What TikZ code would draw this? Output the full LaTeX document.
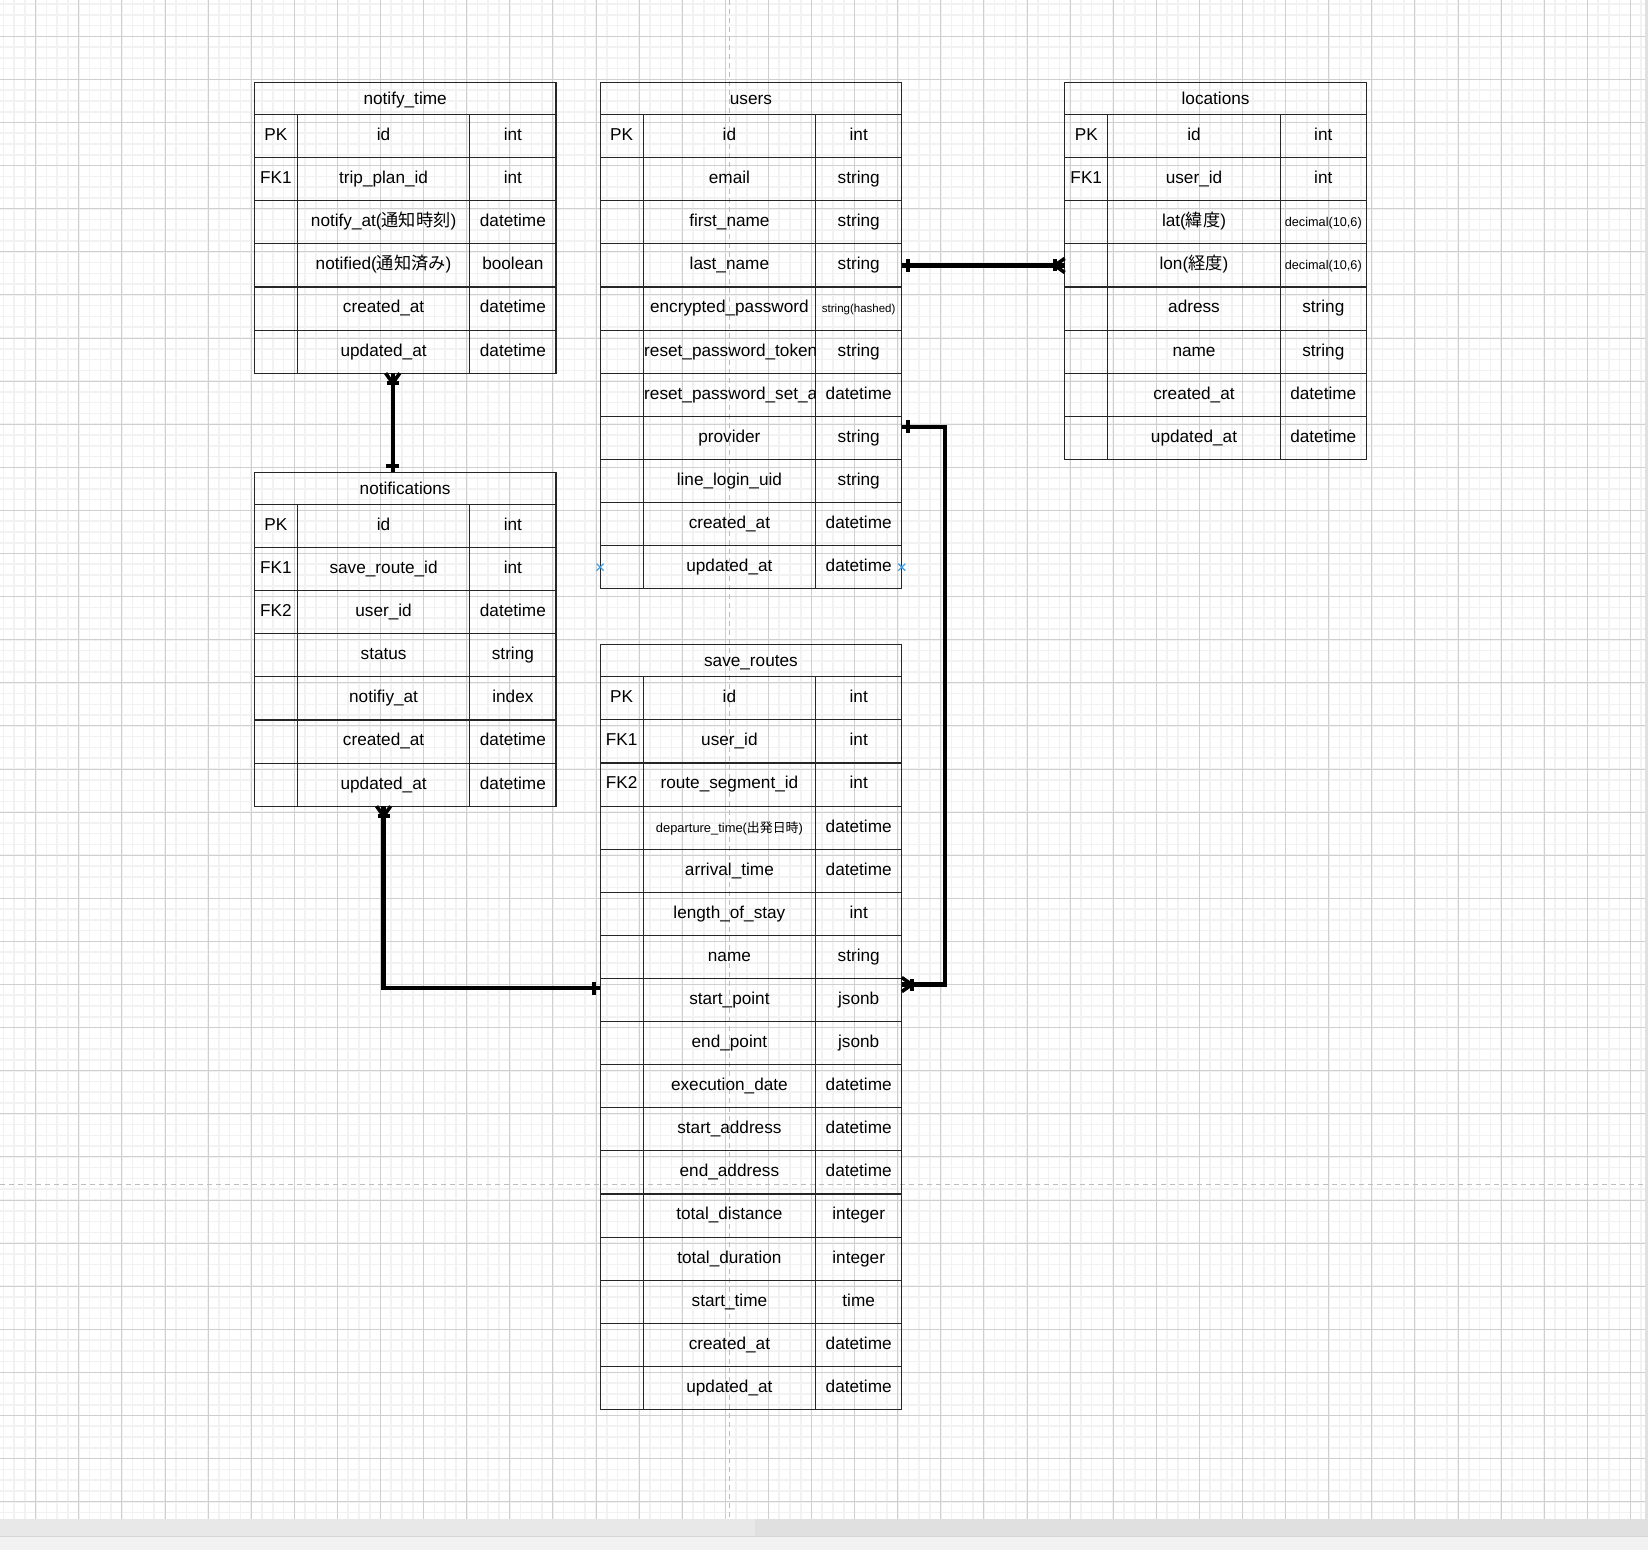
\documentclass[tikz,border=0pt]{standalone}
\usepackage{fontspec}
\setmainfont{Liberation Sans}
\newfontfamily\jp{Noto Sans CJK JP}
\usetikzlibrary{calc}
\newcommand{\sfA}{\fontsize{12.7pt}{14pt}\selectfont}
\newcommand{\sfB}{\fontsize{11.5pt}{13pt}\selectfont}
\newcommand{\sfC}{\fontsize{12.9pt}{14pt}\selectfont}
\definecolor{minorc}{HTML}{F2F2F2}
\definecolor{majorc}{HTML}{CFCFCF}
\definecolor{dashc}{HTML}{BDBDBD}
\definecolor{hoverc}{RGB}{70,160,230}
\tikzset{
  cellfont/.style={font=\fontsize{17.2pt}{20pt}\selectfont, text height=12.4pt, text depth=3.6pt},
  cellbase/.style={draw=black!85, line width=1.1pt, inner sep=0pt, outer sep=0pt, cellfont, minimum height=43.1pt},
  kcell/.style={cellbase, minimum width=43.1pt},
  ncell/.style={cellbase, minimum width=172.4pt},
  tcell/.style={cellbase, minimum width=86.2pt},
  ttl/.style={draw=black!85, line width=1.1pt, inner sep=0pt, outer sep=0pt, cellfont, text depth=0.5pt, minimum width=301.7pt, minimum height=32.3pt},
  conn/.style={line width=4.3pt, black},
  minorl/.style={minorc, line width=1.6pt},
  majorl/.style={majorc, line width=1pt},
  pagebreak/.style={dashc, line width=1.3pt, dash pattern=on 5pt off 4pt},
  crowone/.pic={
    \draw[conn, line width=3.6pt] (-10,0) -- (0,7);
    \draw[conn, line width=3.6pt] (-10,0) -- (0,-7);
    \draw[conn] (-10,0) -- (0,0);
    \draw[conn] (-10,-6) -- (-10,6);
  },
  onebar/.pic={
    \draw[conn] (-6,-6.5) -- (-6,6.5);
  },
  hovercross/.pic={
    \draw[hoverc, line width=1.3pt] (-3.5,-3.5) -- (3.5,3.5) (-3.5,3.5) -- (3.5,-3.5);
  }
}
\newcommand{\ertable}[5]{%
  \node[ttl, anchor=north west] (#1) at (#2,#3) {#4};
  \foreach \cK/\cN/\cT [count=\i] in {#5} {%
    \node[kcell, anchor=north west] (#1-\i-k) at (#2,{#3+32.3+(\i-1)*43.1}) {\cK};
    \node[ncell, anchor=west] (#1-\i-n) at (#1-\i-k.east) {\cN};
    \node[tcell, anchor=west] (#1-\i-t) at (#1-\i-n.east) {\cT};
  }%
}
\begin{document}
\begin{tikzpicture}[x=1pt,y=-1pt]
\useasboundingbox (0,0) rectangle (1648,1550);
\fill[white] (0,0) rectangle (1648,1550);
% grid
\begin{scope}
  \clip (0,0) rectangle (1645,1519);
  \foreach \i in {-4,...,153} {
    \pgfmathsetmacro\xx{35.7+\i*10.775}
    \draw[minorl] (\xx,0) -- (\xx,1519);
  }
  \foreach \j in {-4,...,142} {
    \pgfmathsetmacro\yy{36.3+\j*10.775}
    \draw[minorl] (0,\yy) -- (1645,\yy);
  }
  \foreach \i in {-1,...,38} {
    \pgfmathsetmacro\xx{35.7+\i*43.1}
    \draw[majorl] (\xx,0) -- (\xx,1519);
  }
  \foreach \j in {-1,...,35} {
    \pgfmathsetmacro\yy{36.3+\j*43.1}
    \draw[majorl] (0,\yy) -- (1645,\yy);
  }
  \draw[pagebreak] (729.5,0) -- (729.5,1519);
  \draw[pagebreak] (0,1184.5) -- (1645,1184.5);
\end{scope}
% tables
\ertable{notifytime}{254.3}{82.3}{notify\_time}{
  PK/id/int,
  FK1/trip\_plan\_id/int,
  /notify\_at({\jp 通知時刻})/datetime,
  /notified({\jp 通知済み})/boolean,
  /created\_at/datetime,
  /updated\_at/datetime}
\ertable{users}{600.1}{82.3}{users}{
  PK/id/int,
  /email/string,
  /first\_name/string,
  /last\_name/string,
  /encrypted\_password/{\sfB string(hashed)},
  / /string,
  / /datetime,
  /provider/string,
  /line\_login\_uid/string,
  /created\_at/datetime,
  /updated\_at/datetime}
\ertable{locations}{1064.7}{82.3}{locations}{
  PK/id/int,
  FK1/user\_id/int,
  /lat({\jp 緯度})/{\sfA decimal(10,6)},
  /lon({\jp 経度})/{\sfA decimal(10,6)},
  /adress/string,
  /name/string,
  /created\_at/datetime,
  /updated\_at/datetime}
\ertable{notifications}{254.3}{472.2}{notifications}{
  PK/id/int,
  FK1/save\_route\_id/int,
  FK2/user\_id/datetime,
  /status/string,
  /notifiy\_at/index,
  /created\_at/datetime,
  /updated\_at/datetime}
\ertable{saveroutes}{600.1}{644.5}{save\_routes}{
  PK/id/int,
  FK1/user\_id/int,
  FK2/route\_segment\_id/int,
  /{\sfC departure\_time({\jp 出発日時})}/datetime,
  /arrival\_time/datetime,
  /length\_of\_stay/int,
  /name/string,
  /start\_point/jsonb,
  /end\_point/jsonb,
  /execution\_date/datetime,
  /start\_address/datetime,
  /end\_address/datetime,
  /total\_distance/integer,
  /total\_duration/integer,
  /start\_time/time,
  /created\_at/datetime,
  /updated\_at/datetime}
% clipped overflowing names
\begin{scope}
  \clip (users-6-n.south west) rectangle (users-6-n.north east);
  \node[cellfont, anchor=west, inner xsep=0.8pt, inner ysep=0pt] (rpt) at (users-6-n.west) {reset\_password\_token};
\end{scope}
\begin{scope}
  \clip (users-7-n.south west) rectangle (users-7-n.north east);
  \node[cellfont, anchor=west, inner xsep=0.8pt, inner ysep=0pt] (rpsa) at (users-7-n.west) {reset\_password\_set\_at};
\end{scope}
% connectors
% users.last_name -> locations.lon
\draw[conn] (users-4-t.east) -- (locations-4-k.west);
\pic[rotate=180] at (users-4-t.east) {onebar};
\pic at (locations-4-k.west) {crowone};
% notify_time -> notifications
\coordinate (nA) at ($(notifytime-6-n.south)+(9.1,0)$);
\coordinate (nB) at (nA |- notifications.north);
\draw[conn] (nA) -- (nB);
\pic[rotate=90] at (nA) {crowone};
\pic[rotate=-90] at (nB) {onebar};
% notifications -> save_routes
\coordinate (sA) at (notifications-7-n.south);
\coordinate (sB) at ($(saveroutes-8-k.west)+(0,-12)$);
\draw[conn, line join=miter] (sA) |- (sB);
\pic[rotate=90] at (sA) {crowone};
\pic at (sB) {onebar};
% users.provider -> save_routes
\coordinate (pA) at ($(users-8-t.east)+(0,-11.2)$);
\coordinate (pB) at ($(saveroutes-8-t.east)+(0,-15.5)$);
\draw[conn, line join=miter] (pA) -- ++(43.3,0) |- (pB);
\pic[rotate=180] at (pA) {onebar};
\pic[rotate=180] at (pB) {crowone};
% hover marks
\pic at (users-11-k.west) {hovercross};
\pic at (users-11-t.east) {hovercross};
% window chrome
\fill[black!12] (0,1519) rectangle (1648,1535.5);
\fill[black!9] (0,1519) rectangle (755,1535.5);
\fill[black!5] (0,1537) rectangle (1648,1550);
\draw[black!16, line width=1pt] (0,1536.3) -- (1648,1536.3);
\fill[black!12] (1645,0) rectangle (1648,1519);
\end{tikzpicture}
\end{document}
